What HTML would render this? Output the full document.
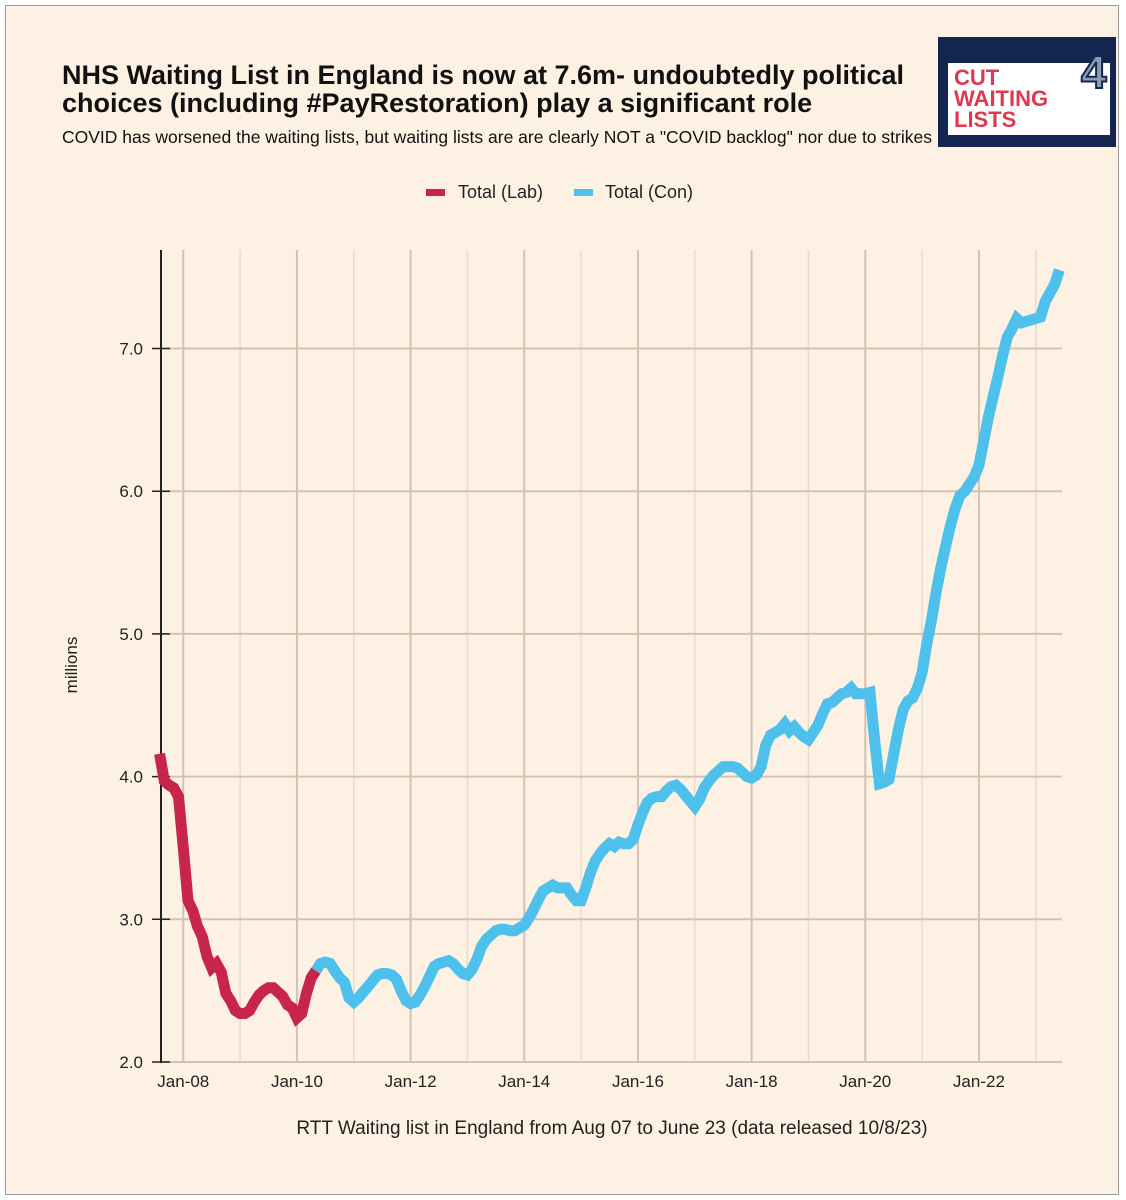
<!DOCTYPE html>
<html><head><meta charset="utf-8">
<style>
html,body{margin:0;padding:0;background:#fff;}
body{width:1126px;height:1200px;overflow:hidden;font-family:"Liberation Sans",sans-serif;}
#frame{position:absolute;left:5px;top:5px;width:1112px;height:1188px;background:#fdf1e4;border:1px solid #9a9a9a;}
.t{position:absolute;color:#111;white-space:nowrap;}
</style></head>
<body>
<div id="frame"></div>
<div class="t" style="left:62px;top:61px;font-size:27px;font-weight:bold;line-height:28px;">NHS Waiting List in England is now at 7.6m- undoubtedly political<br>choices (including #PayRestoration) play a significant role</div>
<div class="t" style="left:62px;top:127px;font-size:17.5px;">COVID has worsened the waiting lists, but waiting lists are are clearly NOT a "COVID backlog" nor due to strikes</div>
<div style="position:absolute;left:938px;top:37px;width:178px;height:110px;background:#13264f;">
  <div style="position:absolute;left:10px;top:26px;width:162px;height:72px;background:#fff;"></div>
  <div style="position:absolute;left:16px;top:30px;font-size:22px;font-weight:bold;line-height:21px;color:#e0384f;">CUT<br>WAITING<br>LISTS</div>
  <div style="position:absolute;left:143px;top:8px;font-size:46px;font-weight:bold;color:#8b9bb4;-webkit-text-stroke:2px #13264f;">4</div>
</div>
<svg id="chart" width="1126" height="1200" style="position:absolute;left:0;top:0;"></svg>
<script>
const yTicks=[2,3,4,5,6,7];
const xTickLabels=["Jan-08","Jan-10","Jan-12","Jan-14","Jan-16","Jan-18","Jan-20","Jan-22"];
const xTickMonths=[5,29,53,77,101,125,149,173];
const labValues=[4.16,3.97,3.94,3.92,3.86,3.5,3.13,3.06,2.95,2.88,2.74,2.66,2.69,2.63,2.48,2.43,2.36,2.34,2.34,2.36,2.42,2.47,2.50,2.52,2.52,2.49,2.46,2.40,2.38,2.31,2.34,2.48,2.59,2.64];
const labStart=0;
const conValues=[2.64,2.69,2.70,2.69,2.64,2.59,2.56,2.45,2.42,2.45,2.49,2.53,2.57,2.61,2.62,2.62,2.61,2.58,2.50,2.43,2.41,2.42,2.47,2.53,2.60,2.67,2.69,2.70,2.71,2.69,2.65,2.62,2.61,2.65,2.72,2.81,2.86,2.89,2.92,2.93,2.93,2.92,2.92,2.94,2.96,3.01,3.07,3.14,3.20,3.22,3.24,3.22,3.22,3.22,3.17,3.13,3.13,3.22,3.33,3.41,3.46,3.50,3.53,3.51,3.54,3.53,3.53,3.56,
3.66,3.75,3.82,3.85,3.86,3.86,3.90,3.93,3.94,3.91,3.87,3.83,3.79,3.84,3.92,3.97,4.01,4.04,4.07,4.07,4.07,4.06,4.03,4.00,3.99,4.01,4.07,4.22,4.29,4.31,4.33,4.37,4.32,4.35,4.31,4.28,4.26,4.31,4.36,4.44,4.51,4.52,4.55,4.58,4.59,4.62,4.58,4.58,4.58,4.59,4.25,3.95,3.96,3.98,4.16,4.33,4.47,4.53,4.55,4.62,4.73,4.93,5.10,5.30,5.47,5.62,5.76,5.88,5.97,6.00,6.05,6.10,6.18,6.35,6.52,6.66,6.80,6.95,7.08,7.14,7.21,7.18,7.19,7.20,7.21,7.22,7.33,7.39,7.45,7.55];
const conStart=33;

const NS="http://www.w3.org/2000/svg";
const svg=document.getElementById('chart');
const X0=159.6, MW=4.736, PL=161, PR=1062, PT=250;
const xs=m=>X0+MW*m;
const ys=v=>1062-(v-2)*142.7;
function mk(tag,attrs,parent){const e=document.createElementNS(NS,tag);for(const k in attrs)e.setAttribute(k,attrs[k]);(parent||svg).appendChild(e);return e;}
for(let m=5;m<=191;m+=12){
  const major=((m-5)/12)%2===0;
  const g=mk('line',{x1:xs(m),x2:xs(m),y1:PT,y2:1062,stroke:major?'#d2c2b4':'#e8dbce','stroke-width':major?2:1.5});
  
  
}
yTicks.forEach(v=>{
  const g=mk('line',{x1:PL,x2:PR,y1:ys(v),y2:ys(v),stroke:'#d2c2b4','stroke-width':2});
  
  
  const t=mk('line',{x1:152,x2:170,y1:ys(v),y2:ys(v),stroke:'#222','stroke-width':1.5});
  
  
  const l=mk('text',{x:143,y:ys(v)+6,'text-anchor':'end','font-size':17,fill:'#222','font-family':'Liberation Sans, sans-serif'});
  l.textContent=v.toFixed(1);
  
  
});
const ax=mk('line',{x1:PL,x2:PL,y1:PT,y2:1063,stroke:'#222','stroke-width':2});


xTickLabels.forEach((s,i)=>{
  const l=mk('text',{x:xs(xTickMonths[i]),y:1087,'text-anchor':'middle','font-size':17,fill:'#222','font-family':'Liberation Sans, sans-serif'});
  l.textContent=s;
  
  
});
function series(vals,start,color,name){
  const d=vals.map((v,i)=>(i?'L':'M')+xs(start+i).toFixed(1)+' '+ys(v).toFixed(1)).join(' ');
  const p=mk('path',{d:d,fill:'none',stroke:color,'stroke-width':11,'stroke-linejoin':'miter','stroke-miterlimit':2});
  
  
}
series(labValues,labStart,'#c8254a','series-total-lab');
series(conValues,conStart,'#4dc0eb','series-total-con');
const yt=mk('text',{x:77,y:665,'text-anchor':'middle','font-size':17,fill:'#222','font-family':'Liberation Sans, sans-serif',transform:'rotate(-90 77 665)'});
yt.textContent='millions';


const xt=mk('text',{x:612,y:1134,'text-anchor':'middle','font-size':19,fill:'#222','font-family':'Liberation Sans, sans-serif'});
xt.textContent='RTT Waiting list in England from Aug 07 to June 23 (data released 10/8/23)';


const lg1=mk('rect',{x:426,y:189,width:19,height:7,fill:'#c8254a'});


const lt1=mk('text',{x:458,y:198,'font-size':18,fill:'#222','font-family':'Liberation Sans, sans-serif'});
lt1.textContent='Total (Lab)';


const lg2=mk('rect',{x:574,y:189,width:19,height:7,fill:'#4dc0eb'});


const lt2=mk('text',{x:605,y:198,'font-size':18,fill:'#222','font-family':'Liberation Sans, sans-serif'});
lt2.textContent='Total (Con)';


</script>
</body></html>
